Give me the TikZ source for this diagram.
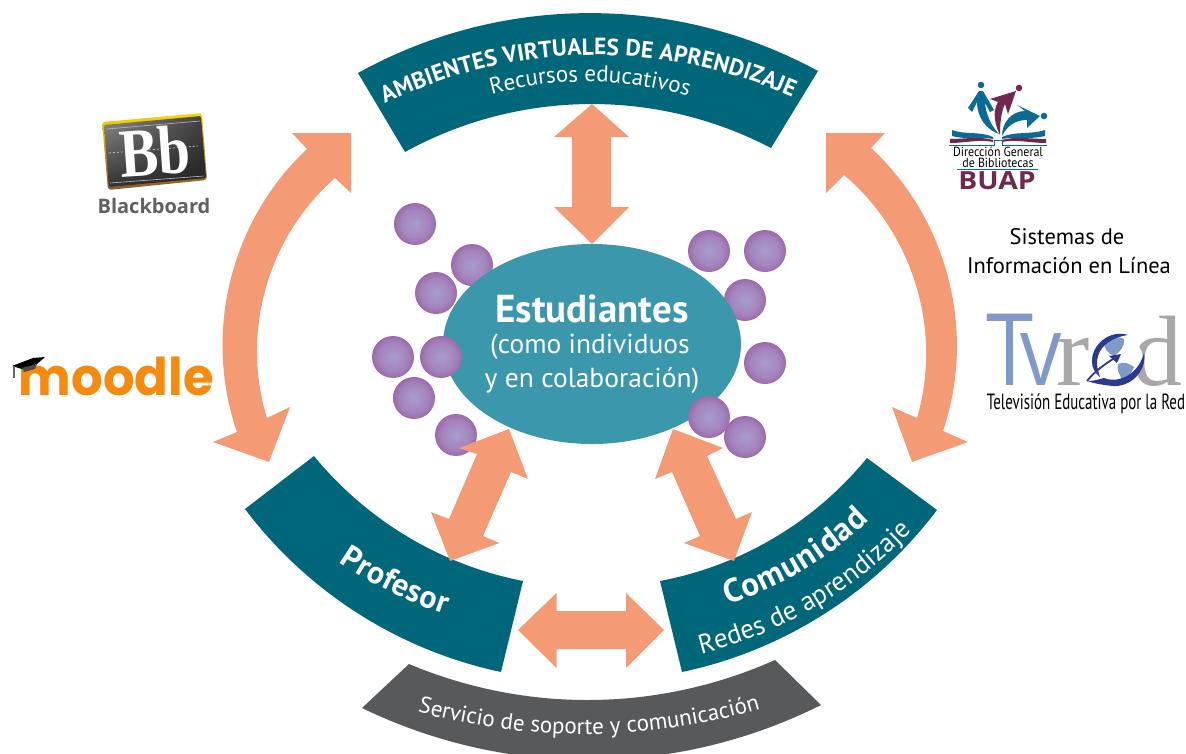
\documentclass[tikz,border=0pt]{standalone}
\usepackage{fontspec}
\setmainfont{PT Sans}
\newfontfamily\opensans{Open Sans}
\newfontfamily\poppins{Poppins}
\newfontfamily\serifx{Liberation Serif}
\usetikzlibrary{decorations.text,shapes.geometric,shadings}
\definecolor{band}{HTML}{00677A}
\definecolor{grayband}{HTML}{58595B}
\definecolor{arrowc}{HTML}{F49B75}
\definecolor{oval}{HTML}{3A97AC}
\definecolor{ballin}{HTML}{A59DCB}
\definecolor{ballmid}{HTML}{A484BC}
\definecolor{ballout}{HTML}{934C9A}
\definecolor{mdl}{HTML}{F68A0E}
\definecolor{bmaroon}{HTML}{70294D}
\definecolor{bblue}{HTML}{0B6B93}
\definecolor{tvblue}{HTML}{7F99C8}
\definecolor{tvgray}{HTML}{A9A7A8}
\definecolor{tvdark}{HTML}{2B3990}
\pgfdeclareradialshading{ballshade}{\pgfpoint{0bp}{0bp}}{color(0bp)=(ballin);color(17bp)=(ballmid);color(34bp)=(ballout);color(100bp)=(ballout)}
\newcommand\fs[1]{\fontsize{#1}{#1}\selectfont}
\newcommand\fTopB{\fs{23.5}\bfseries}
\newcommand\fTopR{\fs{23}}
\newcommand\fProf{\fs{32}\bfseries}
\newcommand\fCom{\fs{33}\bfseries}
\newcommand\fRedes{\fs{27}}
\newcommand\fServ{\fs{23}}
\tikzset{
  bandshape/.style={fill=band},
  grayshape/.style={fill=grayband},
  blockarrow/.style={fill=arrowc},
  ball/.style={shading=ballshade},
  curved/.style={decorate,decoration={text along path,text color=white,text align=center,text={#1}}},
  curvedfit/.style={decorate,decoration={text along path,text color=white,text align={fit to path},text={#1}}},
  plain/.style={inner sep=0pt,outer sep=0pt,align=center},
}
\begin{document}
\begin{tikzpicture}[x=1pt,y=-1pt]
\useasboundingbox (0,0) rectangle (1186,753);
\begin{scope}
\clip (0,0) rectangle (1186,753);
% bands
\fill[bandshape] (358,73) to[bend left=28.8,looseness=.905] (818,71) -- (771,148) to[bend right=28.2,looseness=.905] (405,152) -- cycle;
\fill[bandshape] (314,456) to[bend right=19.8,looseness=.878] (523,581) -- (501,672) to[bend left=20.5,looseness=.878] (245,509) -- cycle;
\fill[bandshape] (660,581) to[bend right=20,looseness=.878] (867,458) -- (937,510) to[bend left=20.5,looseness=.878] (682,672) -- cycle;
\fill[grayshape] (409,664) to[bend right=23.4,looseness=.89] (775,660) -- (821,705) to[bend left=26.2,looseness=.9] (362,708) -- cycle;
% balls behind the oval
\foreach \x/\y in {415/224,472/265,436/293,393/357,414/398,456/435,709/251,765/251,745/300,765/363,745/437}
  \shade[ball] (\x,\y) circle[radius=21];
\node[ellipse,fill=oval,minimum width=298pt,minimum height=200pt,inner sep=0pt] (est) at (592,344) {};
\foreach \x/\y in {441/357,709/417}
  \shade[ball] (\x,\y) circle[radius=21];
% arrows
\fill[blockarrow] (592,104) -- (629,137) -- (611,137) -- (611,207) -- (629,207) -- (592,244) -- (554,207) -- (572,207) -- (572,137) -- (554,137) -- cycle;
\fill[blockarrow] (509,429) -- (528,479) -- (511,472) -- (483,536) -- (499.5,543) -- (450,561) -- (431,512) -- (449,519) -- (477,454) -- (459,448) -- cycle;
\fill[blockarrow] (673,429) -- (723,448) -- (707,456) -- (736,519) -- (752,512) -- (734,561) -- (684,543) -- (700,536) -- (672,472) -- (655,479) -- cycle;
\fill[blockarrow] (518,630) -- (556.5,593) -- (556.5,611) -- (626,611) -- (626,593) -- (664,630) -- (626,668) -- (626,649) -- (556.5,649) -- (556.5,668) -- cycle;
\fill[blockarrow] (351,133) -- (351,193) -- (335,178) to[bend right=33,looseness=.92] (267,418) -- (290,407) -- (269,462) -- (213,442) -- (237,432) to[bend left=33,looseness=.92] (307,149) -- (292,133) -- cycle;
\fill[blockarrow] (826,133) -- (885,133) -- (871,148) to[bend left=33,looseness=.92] (943,431) -- (968,442) -- (912,462) -- (892,407) -- (917,418) to[bend right=33,looseness=.92] (844,175) -- (826,193) -- cycle;
% curved texts
\path[curvedfit={|\fTopB|AMBIENTES VIRTUALES DE APRENDIZAJE}] (385,104) to[bend left=25,looseness=.9] (792,97);
\path[curved={|\fTopR|Recursos educativos}] (490,95) to[bend left=16,looseness=.88] (690,97);
\path[curvedfit={|\fProf|Profesor}] (339,562) to[bend right=8,looseness=.87] (445,614);
\path[curvedfit={|\fCom|Comunidad}] (727,604) to[bend right=14,looseness=.87] (869,520);
\path[curvedfit={|\fRedes|Redes de aprendizaje}] (701,654) to[bend right=16,looseness=.88] (912,531);
\path[curved={|\fServ|Servicio de soporte y comunicación}] (418,712) to[bend right=15.5,looseness=.88] (760,709);
\end{scope}
% oval texts
\node[plain,text=white] (t1) at (592,309) {\fs{39}\bfseries Estudiantes};
\node[plain,text=white] (t2) at (590,347) {\fs{27.5}(como individuos};
\node[plain,text=white] (t3) at (592,381) {\fs{27.5}y en colaboración)};
% right text
\node[plain] (s1) at (1067,237) {\fs{22.5}Sistemas de};
\node[plain] (s2) at (1069,266) {\fs{22.5}Información en Línea};
% Blackboard
\shade[top color=yellow!70!orange,bottom color=brown!70!black,rounded corners=3pt] (102,122) -- (202,113) -- (207,180) -- (108,190) -- cycle;
\shade[upper left=black!45,upper right=black!75,lower left=black!80,lower right=black!88,rounded corners=2pt] (104,125) -- (201,116) -- (206,178) -- (109,187) -- cycle;
\draw[white!75!black,line width=.6pt] (107,129) -- (200,121) (110,183) -- (204,176);
\draw[white!75!black,line width=.8pt,dash pattern=on 2pt off 2pt] (109,153) -- (198,146);
\node[plain,text=white,rotate=4] (bb) at (155,151) {\scalebox{.84}[1]{\serifx\fs{69}\bfseries Bb}};
\node[plain,text=black!62] (bbt) at (154,206) {\opensans\fs{20}\bfseries Blackboard};
% moodle
\node[plain,text=mdl,anchor=base west] (mo) at (19,395) {\scalebox{.955}[1]{\poppins\fs{52}\bfseries moodle}};
\fill[black] (12,366) -- (33,358) -- (45,357) -- (37,364) -- (22,369) -- cycle;
\fill[black!70] (22,368) -- (37,364) -- (35,369) -- (24,372) -- cycle;
\fill[black!60] (13,366) rectangle (15,378);
% Bibliotecas logo
\fill[bblue] (981,85) circle[radius=3.3];
\fill[bmaroon] (1019,88) circle[radius=3.3];
\fill[bblue] (1044,116) circle[radius=3.3];
\fill[bblue] (968,108) -- (979,91) -- (983,91) -- (994,110) -- (990,112) -- (985,103) .. controls (986,115) and (992,127) .. (999,134) .. controls (987,130) and (977,118) .. (977,102) -- (972,112) -- cycle;
\fill[bmaroon] (990,99) -- (1016,91) -- (1008,114) -- (1005,104) .. controls (1001,112) and (1000,124) .. (1000,135) .. controls (995,125) and (992,112) .. (998,102) -- cycle;
\fill[bblue] (1017,105) -- (1040,116) -- (1027,128) -- (1027,120) .. controls (1015,120) and (1007,126) .. (1002,136) .. controls (1002,122) and (1012,111) .. (1025,111) -- cycle;
\fill[bblue] (952,130) .. controls (965,135) and (980,131) .. (993,137) -- (993,139) .. controls (980,136) and (965,140) .. (952,136) -- cycle;
\fill[bblue] (1045,130) .. controls (1030,135) and (1015,131) .. (1002,137) -- (1002,139) .. controls (1015,136) and (1030,140) .. (1045,136) -- cycle;
\fill[bmaroon] (950,139) .. controls (965,139) and (980,136) .. (993,140) -- (993,142) .. controls (980,139) and (965,143) .. (950,143) -- cycle;
\fill[bmaroon] (1046,139) .. controls (1030,139) and (1015,136) .. (1002,140) -- (1002,142) .. controls (1015,139) and (1030,143) .. (1046,143) -- cycle;
\draw[bblue,line width=.7pt] (949,145) -- (994,145) -- (994,140) -- (1002,140) -- (1002,145) -- (1047,145);
\draw[bblue,line width=.8pt] (957,169) -- (1038,169);
\node[plain] (d1) at (998,152) {\scalebox{.9}[1]{\fs{13.2}Dirección General}};
\node[plain] (d2) at (998,163) {\scalebox{.9}[1]{\fs{13.2}de Bibliotecas}};
\node[plain,text=bmaroon] (d3) at (997,181) {\scalebox{1.13}[1]{\opensans\fs{25}\bfseries BUAP}};
% TvRed
\node[plain,text=tvblue,anchor=base] (tv1) at (1010,385) {\scalebox{.85}[1]{\opensans\fs{100}T}};
\node[plain,text=tvblue,anchor=base] (tv2) at (1041,385) {\scalebox{.85}[1]{\opensans\fs{97}v}};
\node[plain,text=tvgray,anchor=base] (tv3) at (1073,385) {\serifx\fs{100}r};
\node[plain,text=tvgray,anchor=base] (tv4) at (1157,385) {\serifx\fs{100}d};
\fill[white] (1118,360) circle[radius=25];
\fill[tvblue] (1104,343) .. controls (1110,337) and (1120,336) .. (1124,339) .. controls (1125,346) and (1120,352) .. (1114,356) .. controls (1108,353) and (1104,349) .. (1104,343) -- cycle;
\fill[tvblue] (1118,364) .. controls (1124,361) and (1130,364) .. (1134,367) .. controls (1132,373) and (1127,379) .. (1122,380) .. controls (1120,375) and (1116,369) .. (1118,364) -- cycle;
\fill[tvdark] (1128,335) .. controls (1110,329) and (1091,345) .. (1092,362) .. controls (1092,368) and (1095,373) .. (1100,377) .. controls (1097,368) and (1096,362) .. (1098,356) .. controls (1101,345) and (1113,337) .. (1128,335) -- cycle;
\fill[tvdark] (1144,353) .. controls (1147,372) and (1130,387) .. (1113,386) .. controls (1104,385) and (1096,384) .. (1087,381) .. controls (1095,381) and (1100,379) .. (1104,378) .. controls (1115,383) and (1137,378) .. (1144,353) -- cycle;
\draw[tvdark,line width=1.8pt] (1087,381) .. controls (1095,371) and (1105,364) .. (1116,357);
\fill[tvdark] (1121,354) -- (1109,356) -- (1117,363) -- cycle;
\node[plain] (tv5) at (1086,404) {\scalebox{.68}[1]{\fs{22}Televisión Educativa por la Red}};
\end{tikzpicture}
\end{document}
